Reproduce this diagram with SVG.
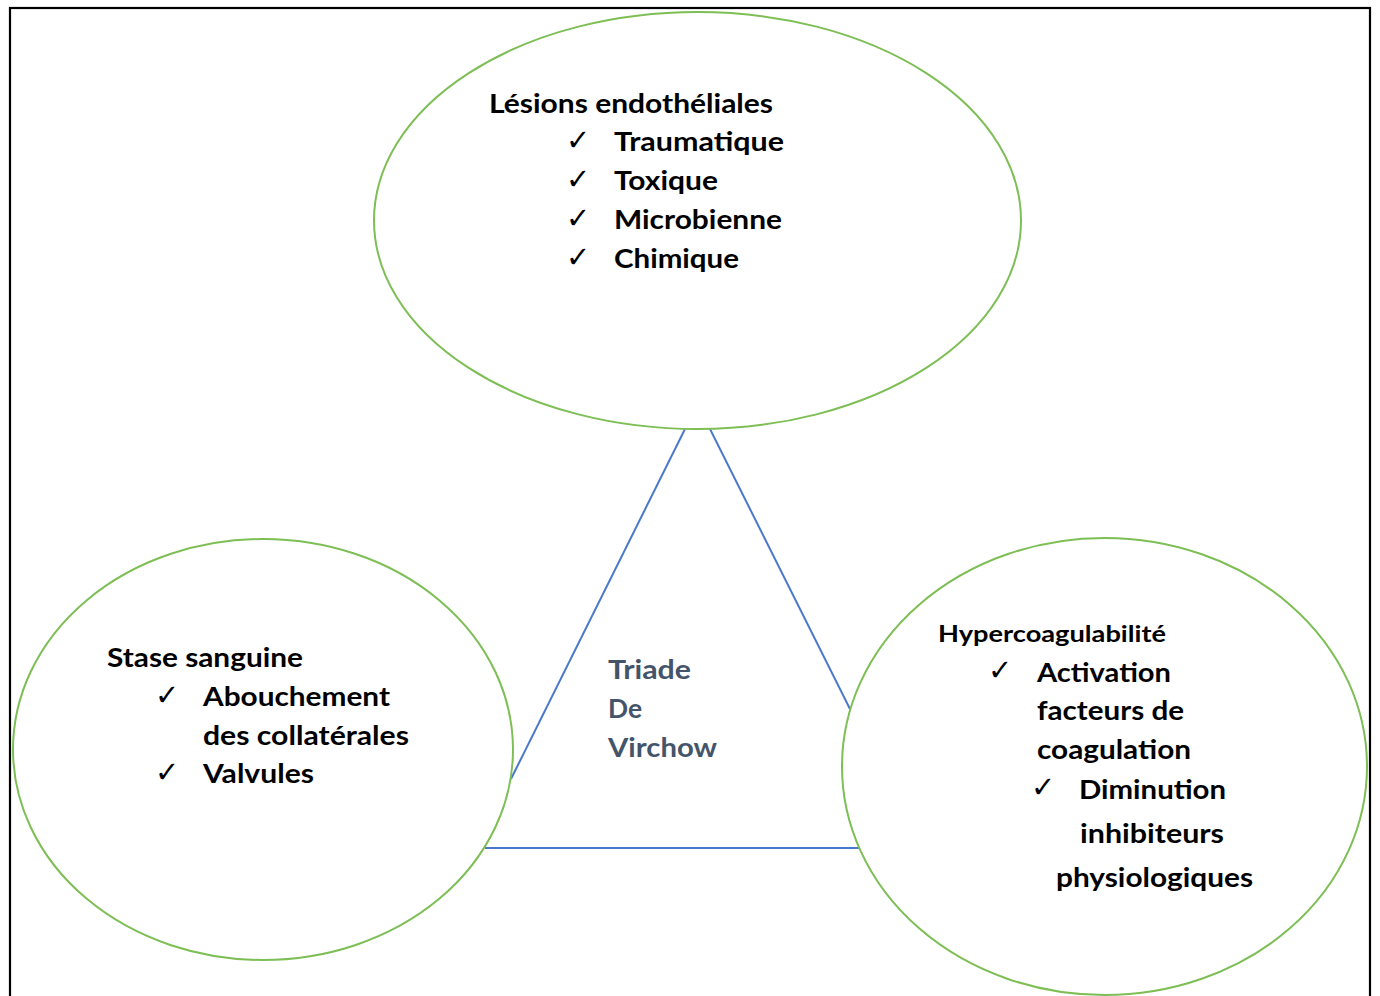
<svg xmlns="http://www.w3.org/2000/svg" width="1380" height="996" viewBox="0 0 1380 996">
<style>
.bg{fill:#fff}
.frame{fill:none;stroke:#000;stroke-width:2.2}
.node{fill:none;stroke:#7DBE55;stroke-width:2}
.edge{stroke:#4A78CC;stroke-width:2;fill:none}
.t{font-family:Lato,"Open Sans","Liberation Sans",sans-serif;font-weight:bold;font-size:26px;fill:#000}
.h{font-size:22px}
.ck{font-family:"DejaVu Sans",sans-serif;font-size:29px;fill:#000}
.tri{font-family:Lato,"Open Sans","Liberation Sans",sans-serif;font-weight:bold;font-size:26px;fill:#44546A}
</style>
<rect class="bg" x="0" y="0" width="1380" height="996"/>
<rect class="frame" x="10" y="8" width="1360" height="1000"/>
<g id="connectors">
<line class="edge" x1="685" y1="429" x2="511" y2="779"/>
<line class="edge" x1="710" y1="429" x2="850" y2="709"/>
<line class="edge" x1="485" y1="848" x2="859" y2="848"/>
</g>
<g id="lesions">
<ellipse class="node" cx="697.5" cy="220.5" rx="323.5" ry="208.5"/>
<text class="t" x="489" y="113" textLength="284" lengthAdjust="spacingAndGlyphs">Lésions endothéliales</text>
<text class="ck" x="566" y="150">✓</text>
<text class="t" x="614" y="151" textLength="170" lengthAdjust="spacingAndGlyphs">Traumatique</text>
<text class="ck" x="566" y="189">✓</text>
<text class="t" x="614" y="190" textLength="104" lengthAdjust="spacingAndGlyphs">Toxique</text>
<text class="ck" x="566" y="228">✓</text>
<text class="t" x="614" y="229" textLength="168" lengthAdjust="spacingAndGlyphs">Microbienne</text>
<text class="ck" x="566" y="267">✓</text>
<text class="t" x="614" y="268" textLength="125" lengthAdjust="spacingAndGlyphs">Chimique</text>
</g>
<g id="stase">
<ellipse class="node" cx="263" cy="749.5" rx="250" ry="210.5"/>
<text class="t" x="107" y="667" textLength="196" lengthAdjust="spacingAndGlyphs">Stase sanguine</text>
<text class="ck" x="155" y="705">✓</text>
<text class="t" x="203" y="706" textLength="187" lengthAdjust="spacingAndGlyphs">Abouchement</text>
<text class="t" x="203" y="745" textLength="206" lengthAdjust="spacingAndGlyphs">des collatérales</text>
<text class="ck" x="155" y="782">✓</text>
<text class="t" x="203" y="783" textLength="111" lengthAdjust="spacingAndGlyphs">Valvules</text>
</g>
<g id="hyper">
<ellipse class="node" cx="1104.5" cy="766.5" rx="262.5" ry="228.5"/>
<text class="t h" x="938" y="642" textLength="228" lengthAdjust="spacingAndGlyphs">Hypercoagulabilité</text>
<text class="ck" x="988" y="680">✓</text>
<text class="t" x="1037" y="682" textLength="134" lengthAdjust="spacingAndGlyphs">Activation</text>
<text class="t" x="1037" y="720" textLength="147" lengthAdjust="spacingAndGlyphs">facteurs de</text>
<text class="t" x="1037" y="759" textLength="154" lengthAdjust="spacingAndGlyphs">coagulation</text>
<text class="ck" x="1031" y="797">✓</text>
<text class="t" x="1079" y="799" textLength="147" lengthAdjust="spacingAndGlyphs">Diminution</text>
<text class="t" x="1080" y="843" textLength="144" lengthAdjust="spacingAndGlyphs">inhibiteurs</text>
<text class="t" x="1056" y="887" textLength="197" lengthAdjust="spacingAndGlyphs">physiologiques</text>
</g>
<g id="triade">
<text class="tri" x="608" y="679" textLength="83" lengthAdjust="spacingAndGlyphs">Triade</text>
<text class="tri" x="608" y="718" textLength="34" lengthAdjust="spacingAndGlyphs">De</text>
<text class="tri" x="608" y="757" textLength="109" lengthAdjust="spacingAndGlyphs">Virchow</text>
</g>
</svg>
